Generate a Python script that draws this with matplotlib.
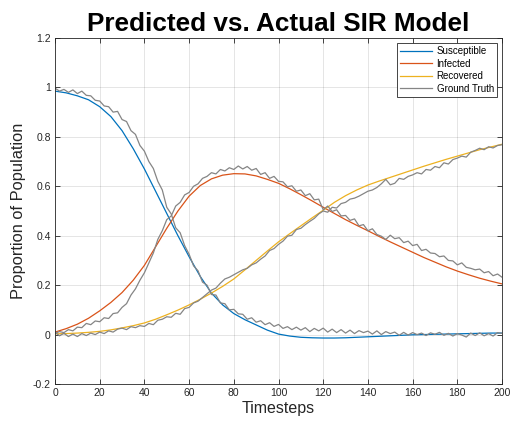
import numpy as np
import matplotlib
matplotlib.use("Agg")
import matplotlib.pyplot as plt

# model prediction, every 5 timesteps
t_pred = np.arange(0, 201, 5)
susceptible = [0.985, 0.978, 0.966, 0.950, 0.922, 0.882, 0.825, 0.752, 0.670, 0.580,
               0.490, 0.400, 0.315, 0.235, 0.168, 0.120, 0.085, 0.060, 0.039, 0.018,
               0.002, -0.006, -0.011, -0.013, -0.014, -0.014, -0.013, -0.011, -0.009, -0.007,
               -0.005, -0.003, -0.001, 0.000, 0.001, 0.002, 0.003, 0.004, 0.005, 0.006,
               0.006]
infected = [0.010, 0.024, 0.042, 0.066, 0.096, 0.130, 0.170, 0.220, 0.280, 0.355,
            0.430, 0.500, 0.560, 0.603, 0.630, 0.645, 0.651, 0.650, 0.642, 0.628,
            0.612, 0.590, 0.566, 0.541, 0.515, 0.490, 0.465, 0.442, 0.420, 0.397,
            0.375, 0.354, 0.333, 0.312, 0.293, 0.274, 0.257, 0.242, 0.228, 0.216,
            0.205]
recovered = [0.003, 0.004, 0.006, 0.009, 0.013, 0.019, 0.027, 0.036, 0.047, 0.062,
             0.080, 0.099, 0.120, 0.143, 0.168, 0.195, 0.225, 0.262, 0.300, 0.338,
             0.375, 0.408, 0.440, 0.472, 0.503, 0.535, 0.562, 0.585, 0.605, 0.621,
             0.636, 0.651, 0.666, 0.681, 0.695, 0.709, 0.722, 0.735, 0.748, 0.759,
             0.770]

# ground truth, every 2 timesteps
t_true = np.arange(0, 201, 2)
true_s = [0.997, 0.985, 0.992, 0.980, 0.990, 0.975, 0.985, 0.968, 0.966, 0.948,
          0.945, 0.925, 0.922, 0.900, 0.903, 0.870, 0.862, 0.825, 0.810, 0.765,
          0.742, 0.700, 0.672, 0.620, 0.585, 0.515, 0.488, 0.432, 0.412, 0.360,
          0.325, 0.278, 0.258, 0.212, 0.200, 0.162, 0.160, 0.128, 0.125, 0.100,
          0.102, 0.084, 0.082, 0.062, 0.068, 0.050, 0.056, 0.040, 0.048, 0.033,
          0.041, 0.025, 0.032, 0.020, 0.030, 0.018, 0.028, 0.012, 0.025, 0.015,
          0.026, 0.010, 0.022, 0.008, 0.020, 0.006, 0.018, 0.004, 0.016, 0.008,
          0.014, 0.002, 0.015, 0.000, 0.012, 0.004, 0.010, -0.003, 0.009, -0.002,
          0.008, 0.000, 0.006, -0.004, 0.007, 0.001, 0.009, -0.003, 0.005, -0.006,
          0.004, -0.002, -0.010, 0.006, -0.004, 0.007, -0.005, 0.004, -0.006, 0.008,
          0.005]
true_i = [0.005, 0.012, 0.008, 0.020, 0.015, 0.030, 0.028, 0.045, 0.040, 0.055,
          0.052, 0.068, 0.065, 0.085, 0.088, 0.110, 0.125, 0.160, 0.185, 0.220,
          0.250, 0.290, 0.330, 0.385, 0.420, 0.465, 0.480, 0.520, 0.535, 0.565,
          0.575, 0.600, 0.610, 0.632, 0.640, 0.655, 0.650, 0.668, 0.662, 0.675,
          0.668, 0.682, 0.670, 0.680, 0.665, 0.672, 0.648, 0.655, 0.632, 0.640,
          0.620, 0.618, 0.598, 0.602, 0.580, 0.585, 0.562, 0.570, 0.545, 0.548,
          0.505, 0.520, 0.498, 0.505, 0.480, 0.482, 0.462, 0.468, 0.440, 0.445,
          0.420, 0.428, 0.405, 0.398, 0.385, 0.402, 0.388, 0.392, 0.372, 0.378,
          0.360, 0.365, 0.340, 0.345, 0.330, 0.328, 0.315, 0.318, 0.300, 0.298,
          0.282, 0.290, 0.272, 0.268, 0.262, 0.265, 0.250, 0.255, 0.238, 0.245,
          0.232]
true_r = [0.010, -0.005, 0.005, -0.008, 0.002, -0.008, 0.004, -0.004, 0.006, 0.000,
          0.010, 0.004, 0.015, 0.010, 0.022, 0.026, 0.020, 0.032, 0.028, 0.036,
          0.033, 0.045, 0.040, 0.058, 0.062, 0.072, 0.070, 0.086, 0.082, 0.105,
          0.110, 0.128, 0.135, 0.150, 0.165, 0.180, 0.188, 0.208, 0.225, 0.232,
          0.242, 0.252, 0.262, 0.268, 0.282, 0.290, 0.305, 0.318, 0.340, 0.348,
          0.365, 0.378, 0.398, 0.402, 0.425, 0.430, 0.445, 0.458, 0.470, 0.488,
          0.500, 0.495, 0.515, 0.512, 0.530, 0.535, 0.548, 0.552, 0.560, 0.570,
          0.580, 0.585, 0.595, 0.610, 0.628, 0.606, 0.612, 0.632, 0.628, 0.640,
          0.646, 0.655, 0.650, 0.668, 0.665, 0.680, 0.675, 0.695, 0.690, 0.708,
          0.714, 0.722, 0.718, 0.738, 0.745, 0.754, 0.748, 0.760, 0.755, 0.765,
          0.768]

plt.rcParams['font.family'] = ['Liberation Sans', 'DejaVu Sans']
axcol = '#262626'

fig = plt.figure(figsize=(5.15, 4.23), dpi=100)
ax = fig.add_axes([0.1068, 0.0922, 0.868, 0.818])

ax.plot(t_pred, susceptible, color='#0072BD', lw=0.9, label='Susceptible')
ax.plot(t_pred, infected, color='#D95319', lw=0.9, label='Infected')
ax.plot(t_pred, recovered, color='#EDB120', lw=0.9, label='Recovered')
ax.plot(t_true, true_s, color='#858585', lw=0.9, label='Ground Truth')
ax.plot(t_true, true_i, color='#858585', lw=0.9)
ax.plot(t_true, true_r, color='#858585', lw=0.9)

ax.set_xlim(0, 200)
ax.set_ylim(-0.2, 1.2)
ax.set_xticks(np.arange(0, 201, 20))
ax.set_yticks(np.arange(-0.2, 1.21, 0.2))
ax.set_yticklabels(['-0.2', '0', '0.2', '0.4', '0.6', '0.8', '1', '1.2'])
ax.grid(True, color='#000000', alpha=0.12, lw=0.6)
ax.tick_params(direction='in', length=3.5, width=0.6, top=True, right=True,
               labelsize=7.5, colors=axcol, pad=3)
for s in ax.spines.values():
    s.set_color(axcol)
    s.set_linewidth(0.6)

ax.set_xlabel('Timesteps', fontsize=11.5, color=axcol, labelpad=2)
ax.set_ylabel('Proportion of Population', fontsize=11.8, color=axcol, labelpad=5)
ax.set_title('Predicted vs. Actual SIR Model', fontsize=18.8, fontweight='bold',
             color='black', pad=5)

leg = ax.legend(loc='upper right', fontsize=7, handlelength=3.3,
                handletextpad=0.45, labelspacing=0.25, borderpad=0.35,
                fancybox=False, framealpha=1, borderaxespad=0.5)
leg.get_frame().set_edgecolor(axcol)
leg.get_frame().set_linewidth(0.6)

fig.savefig('out.png', dpi=100)
